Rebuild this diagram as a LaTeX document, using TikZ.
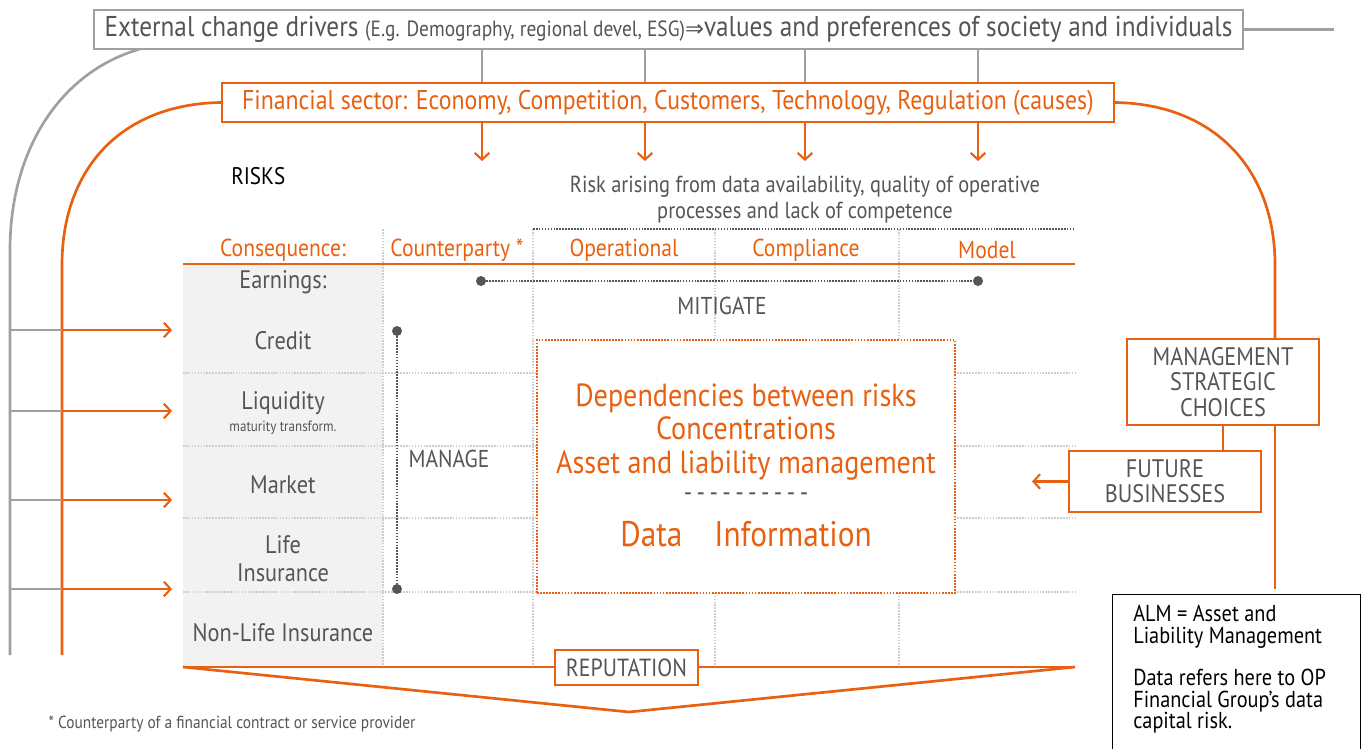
\documentclass[tikz,border=0pt]{standalone}
\usepackage{fontspec}
\setmainfont{PT Sans}[FakeStretch=0.88]
\newfontfamily\symfont{DejaVu Sans}
\usetikzlibrary{arrows.meta,calc}
\definecolor{opor}{RGB}{232,96,16}
\definecolor{txtgray}{RGB}{85,85,85}
\definecolor{linegray}{RGB}{160,160,160}
\definecolor{gridgray}{RGB}{205,205,205}
\definecolor{cellgray}{RGB}{242,242,242}
\definecolor{dotdark}{RGB}{85,85,85}
\newcommand{\fs}[2]{\fontsize{#1}{#2}\selectfont}
\begin{document}
\begin{tikzpicture}[x=0.75pt,y=-0.75pt,
  graybox/.style={draw=linegray,line width=1.5pt,inner sep=0pt,align=center,text=txtgray,fill=white},
  orbox/.style={draw=opor,line width=1.5pt,inner sep=0pt,align=center,fill=white},
  grayline/.style={draw=linegray,line width=2pt},
  thingray/.style={draw=linegray,line width=1pt},
  orline/.style={draw=opor,line width=2pt},
  orarrow/.style={draw=opor,line width=2pt,-{Straight Barb[length=5pt,width=11pt,line width=1.6pt]}},
  grid/.style={draw=gridgray,line width=1.2pt,densely dotted},
  darkdots/.style={draw=dotdark,line width=1.2pt,densely dotted},
  enddot/.style={circle,fill=dotdark,inner sep=0pt,minimum size=7.5pt},
  rowlab/.style={text=txtgray,font=\fs{19}{21},align=center},
  colhead/.style={text=opor,font=\fs{18.4}{21}},
  deptext/.style={text=opor,font=\fs{24}{25},align=center}
]
\useasboundingbox (0,0) rectangle (1366,749);

% column positions of the cause arrows
\coordinate (c1) at (482,0);
\coordinate (c2) at (645,0);
\coordinate (c3) at (805,0);
\coordinate (c4) at (978,0);

% outer drivers and financial sector boxes
\node[graybox,minimum width=1149*0.75pt,minimum height=39*0.75pt] (ext) at (668.5,29.5)
  {\raisebox{-1.5pt}{\fs{21.5}{24}External change drivers {\fs{16.5}{18}(E.g. Demography, regional devel, ESG)}{\symfont\fs{17}{20}⇒}values and preferences of society and individuals}};
\node[orbox,minimum width=892*0.75pt,minimum height=39*0.75pt,text=opor] (fin) at (668,102.5)
  {\raisebox{-1.5pt}{\fs{20.3}{23}Financial sector: Economy, Competition, Customers, Technology, Regulation (causes)}};

\draw[grayline] (ext.east) -- ++(90,0) coordinate (extend);
\foreach \c in {c1,c2,c3,c4}{
  \draw[thingray] (ext.south -| \c) -- (fin.north -| \c);
  \draw[orarrow] (fin.south -| \c) -- ++(0,38);
}

% feedback arcs
\draw[grayline] (140,49) .. controls (60,72) and (10,150) .. (10,250) -- (10,655);
\draw[orline] (fin.west) .. controls (120,104) and (62,170) .. (62,265) -- (62,655);

% table background
\fill[cellgray] (183,264) rectangle (383,667);
\foreach \x in {383,533,715,899} \draw[grid] (\x,229) -- (\x,667);
\foreach \y in {373,446,518,592} \draw[grid] (183,\y) -- (1075,\y);
\draw[darkdots] (533,229) -- (1075,229);
\draw[orline] (183,264) -- (1075,264);

% headings
\node[anchor=west,font=\fs{18}{20},inner sep=0pt] (risks) at (231,176) {RISKS};
\node[text=txtgray,font=\fs{17.4}{19.5},align=center] (riskdata) at (805,200)
  {Risk arising from data availability, quality of operative\\processes and lack of competence};
\node[colhead] (hcons) at (283,250) {Consequence:};
\node[colhead] (hcp) at (457,250) {Counterparty *};
\node[colhead] (hop) at (624,250) {Operational};
\node[colhead] (hcomp) at (806,250) {Compliance};
\node[colhead] (hmod) at (987,250) {Model};

% consequence rows
\node[rowlab] (earn) at (283,282) {Earnings:};
\node[rowlab] (credit) at (283,341) {Credit};
\node[rowlab] (liq) at (283,413) {Liquidity\\[-4pt]{\fs{11.1}{13}maturity transform.}};
\node[rowlab] (market) at (283,485) {Market};
\node[rowlab] (life) at (283,559) {Life\\Insurance};
\node[rowlab] (nonlife) at (283,633) {Non-Life Insurance};

% impact arrows from the drivers
\foreach \y in {330,411,500,589}{
  \draw[thingray] (10,\y) -- (62,\y);
  \draw[orarrow] (62,\y) -- (172,\y);
}

% mitigate and manage spans
\node[enddot] (m1) at (481,281) {};
\node[enddot] (m2) at (978,281) {};
\draw[darkdots] (m1) -- (m2);
\node[text=txtgray,font=\fs{18.3}{21}] (mitigate) at (722,306) {MITIGATE};
\node[enddot] (g1) at (397,331) {};
\node[enddot] (g2) at (397,589) {};
\draw[darkdots] (g1) -- (g2);
\node[text=txtgray,font=\fs{18.3}{21}] (manage) at (449,459) {MANAGE};

% dependencies box
\node[draw=opor,fill=white,line width=1.3pt,densely dotted,minimum width=418*0.75pt,minimum height=253*0.75pt] (deps) at (746,466.5) {};
\node[deptext] (deplines) at (746,432) {Dependencies between risks\\Concentrations\\Asset and liability management};
\node[text=txtgray,font=\fs{20}{20}] (dashes) at (746,497) {-\,-\,-\,-\,-\,-\,-\,-\,-\,-};
\node[text=opor,font=\fs{26.7}{30}] (data) at (746,534) {Data\hspace{0.9em}Information};

% reputation
\coordinate (t1) at (183,667);
\coordinate (t2) at (1075,667);
\coordinate (tip) at (629,712);
\draw[orline] (t1) -- (t2);
\draw[orline] (t1) -- (tip) -- (t2);
\node[orbox,text=txtgray,font=\fs{18.6}{21},minimum width=143*0.75pt,minimum height=35*0.75pt] (rep) at (626.5,667.5) {\raisebox{-1pt}{REPUTATION}};

% management choices
\node[orbox,text=txtgray,font=\fs{19}{19},minimum width=192*0.75pt,minimum height=86*0.75pt] (mgmt) at (1223,382) {MANAGEMENT\\STRATEGIC\\CHOICES};
\node[orbox,text=txtgray,font=\fs{19}{19},minimum width=192*0.75pt,minimum height=61*0.75pt] (future) at (1165,481.5) {FUTURE\\BUSINESSES};
\coordinate (rx) at (1275,0);
\draw[orline] (fin.east) .. controls (1215,104) and (1275,170) .. (1275,265) -- (mgmt.north -| rx);
\draw[orline] (mgmt.south -| rx) -- (1275,589);
\draw[orline] (mgmt.south) -- (future.north -| mgmt.south);
\draw[orarrow] (future.west) -- ++(-36,0);

% notes
\node[minimum width=247*0.75pt,minimum height=154*0.75pt,inner sep=0pt] (alm) at (1236.5,672) {};
\draw[black,line width=1pt] (alm.south west) -- (alm.north west) -- (alm.north east) -- (alm.south east);
\node[anchor=north west,align=left,font=\fs{17.3}{16},inner sep=0pt] (almtext) at (1133,605)
  {ALM = Asset and\\Liability Management\\[16pt]Data refers here to OP\\Financial Group’s data\\capital risk.};
\node[anchor=west,text=txtgray,font=\fs{13.1}{15}] (foot) at (44,724) {* Counterparty of a financial contract or service provider};
\end{tikzpicture}
\end{document}
